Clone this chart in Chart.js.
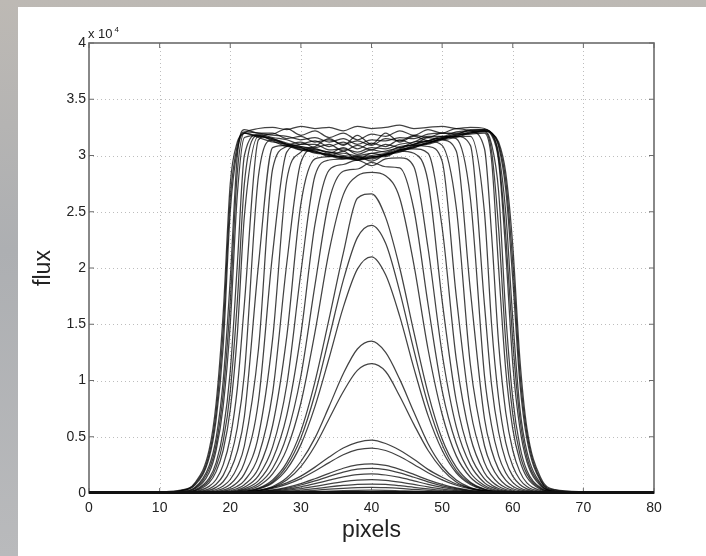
<!DOCTYPE html>
<html>
<head>
<meta charset="utf-8">
<script src="https://cdn.jsdelivr.net/npm/chart.js@4.4.0/dist/chart.umd.min.js"></script>
<style>
  html, body { margin: 0; padding: 0; }
  body {
    width: 706px; height: 556px; overflow: hidden; position: relative;
    background: linear-gradient(180deg, #bdb9b4 0%, #adafb2 45%, #b9babc 100%);
  }
  #panel { position: absolute; left: 18px; top: 7px; width: 688px; height: 549px; background: #fff; }
  canvas { display: block; }
</style>
</head>
<body>
<div id="panel"><canvas id="fluxChart" width="688" height="549"></canvas></div>
<script>
// sample positions shared by every profile
const pixels = [0, 10, 13, 15, 17, 18, 19, 20, 21, 22, 24, 26, 28, 30, 32, 34, 36, 38, 40, 42, 44, 46, 48, 50, 52, 54, 56, 57, 58, 59, 60, 61, 62, 64, 66, 70, 80];

// flux in units of 1e4, one row per exposure
// widest saturated profiles (steep outer edges)
const saturatedWide = [
  [0, 0.01, 0.025, 0.09, 0.38, 0.8, 1.6, 2.75, 3.12, 3.2, 3.24, 3.25, 3.23, 3.26, 3.24, 3.25, 3.22, 3.26, 3.24, 3.25, 3.27, 3.24, 3.25, 3.26, 3.24, 3.25, 3.24, 3.2, 3.12, 2.85, 2.2, 1.2, 0.58, 0.13, 0.03, 0.012, 0],
  [0, 0.008, 0.022, 0.08, 0.34, 0.72, 1.45, 2.62, 3.09, 3.21, 3.2, 3.18, 3.17, 3.14, 3.16, 3.12, 3.15, 3.1, 3.14, 3.13, 3.16, 3.15, 3.19, 3.2, 3.2, 3.22, 3.23, 3.2, 3.1, 2.78, 2.05, 1.08, 0.53, 0.11, 0.025, 0.008, 0],
  [0, 0.005, 0.02, 0.07, 0.31, 0.65, 1.3, 2.5, 3.05, 3.2, 3.16, 3.12, 3.1, 3.05, 3.03, 3.0, 2.97, 2.98, 2.97, 3.01, 3.04, 3.07, 3.12, 3.14, 3.16, 3.2, 3.22, 3.2, 3.08, 2.7, 1.9, 0.98, 0.48, 0.1, 0.02, 0.005, 0],
  [0, 0, 0.015, 0.05, 0.24, 0.49, 1.0, 1.9, 3.0, 3.23, 3.2, 3.2, 3.15, 3.17, 3.12, 3.14, 3.1, 3.13, 3.09, 3.15, 3.13, 3.18, 3.16, 3.2, 3.19, 3.23, 3.23, 3.2, 3.02, 2.5, 1.55, 0.76, 0.37, 0.08, 0.015, 0, 0],
  [0, 0, 0.01, 0.044, 0.21, 0.43, 0.88, 1.7, 2.85, 3.2, 3.17, 3.15, 3.1, 3.08, 3.05, 3.03, 3.0, 2.99, 3.0, 3.02, 3.06, 3.1, 3.13, 3.16, 3.18, 3.2, 3.22, 3.19, 2.98, 2.3, 1.35, 0.67, 0.32, 0.07, 0.013, 0, 0],
  [0, 0, 0.007, 0.038, 0.18, 0.38, 0.77, 1.5, 2.65, 3.16, 3.18, 3.13, 3.08, 3.07, 3.02, 3.01, 2.98, 2.96, 2.99, 2.99, 3.05, 3.07, 3.11, 3.15, 3.17, 3.21, 3.22, 3.18, 2.95, 2.15, 1.15, 0.58, 0.28, 0.06, 0.012, 0, 0],
  [0, 0, 0.005, 0.027, 0.13, 0.27, 0.55, 1.08, 2.03, 3.0, 3.19, 3.16, 3.14, 3.1, 3.1, 3.05, 3.06, 3.03, 3.07, 3.06, 3.1, 3.12, 3.17, 3.17, 3.21, 3.22, 3.22, 3.1, 2.68, 1.6, 0.84, 0.42, 0.2, 0.044, 0.008, 0, 0],
  [0, 0, 0.004, 0.022, 0.11, 0.23, 0.46, 0.9, 1.7, 2.75, 3.18, 3.15, 3.11, 3.08, 3.06, 3.03, 3.02, 3.0, 3.02, 3.04, 3.07, 3.1, 3.13, 3.16, 3.19, 3.2, 3.21, 3.04, 2.35, 1.35, 0.7, 0.35, 0.17, 0.037, 0.007, 0, 0],
  [0, 0, 0.004, 0.019, 0.09, 0.19, 0.38, 0.74, 1.41, 2.46, 3.17, 3.14, 3.09, 3.05, 3.04, 2.99, 2.99, 2.97, 2.98, 3.01, 3.03, 3.08, 3.1, 3.14, 3.18, 3.19, 3.2, 2.96, 2.0, 1.1, 0.57, 0.29, 0.14, 0.03, 0.006, 0, 0],
  [0, 0, 0.002, 0.012, 0.059, 0.12, 0.25, 0.49, 0.93, 1.68, 3.14, 3.19, 3.24, 3.18, 3.22, 3.16, 3.2, 3.14, 3.19, 3.17, 3.22, 3.18, 3.23, 3.2, 3.24, 3.22, 3.06, 2.3, 1.33, 0.72, 0.38, 0.19, 0.09, 0.02, 0, 0, 0]
];

// saturated profiles with narrower flat tops
const saturatedInner = [
  [0, 0, 0, 0.008, 0.037, 0.078, 0.157, 0.31, 0.58, 1.06, 2.82, 3.14, 3.1, 3.07, 3.03, 3.01, 2.98, 2.98, 2.99, 3.0, 3.05, 3.08, 3.11, 3.15, 3.17, 3.17, 2.49, 1.5, 0.84, 0.45, 0.24, 0.12, 0.058, 0.012, 0, 0, 0],
  [0, 0, 0, 0.005, 0.024, 0.05, 0.1, 0.2, 0.37, 0.68, 2.03, 3.07, 3.09, 3.06, 3.04, 3.0, 2.99, 2.96, 2.98, 3.01, 3.04, 3.09, 3.11, 3.15, 3.17, 3.09, 1.67, 0.96, 0.54, 0.29, 0.15, 0.076, 0.037, 0.008, 0, 0, 0],
  [0, 0, 0, 0.003, 0.015, 0.031, 0.062, 0.12, 0.23, 0.42, 1.28, 2.88, 3.08, 3.12, 3.07, 3.1, 3.04, 3.09, 3.05, 3.1, 3.07, 3.12, 3.13, 3.17, 3.15, 2.62, 1.04, 0.6, 0.33, 0.18, 0.094, 0.047, 0.023, 0.005, 0, 0, 0],
  [0, 0, 0, 0, 0.01, 0.02, 0.04, 0.078, 0.148, 0.27, 0.82, 2.13, 3.03, 3.1, 3.13, 3.08, 3.12, 3.06, 3.11, 3.08, 3.14, 3.1, 3.16, 3.14, 3.04, 1.8, 0.66, 0.38, 0.21, 0.115, 0.06, 0.03, 0.015, 0, 0, 0, 0],
  [0, 0, 0, 0, 0.006, 0.012, 0.025, 0.049, 0.093, 0.17, 0.51, 1.37, 2.78, 3.03, 3.08, 3.15, 3.09, 3.18, 3.1, 3.2, 3.12, 3.17, 3.13, 3.09, 2.54, 1.14, 0.42, 0.24, 0.134, 0.072, 0.038, 0.019, 0.009, 0, 0, 0, 0],
  [0, 0, 0, 0, 0.004, 0.008, 0.016, 0.032, 0.06, 0.11, 0.33, 0.89, 2.04, 2.94, 3.06, 3.02, 3.07, 3.01, 3.05, 3.03, 3.08, 3.09, 3.08, 2.95, 1.75, 0.74, 0.27, 0.156, 0.087, 0.047, 0.024, 0.012, 0.006, 0, 0, 0, 0],
  [0, 0, 0, 0, 0.003, 0.005, 0.011, 0.021, 0.04, 0.074, 0.22, 0.6, 1.39, 2.57, 2.97, 2.99, 3.04, 2.96, 3.02, 3.0, 3.05, 3.06, 3.02, 2.36, 1.19, 0.5, 0.18, 0.105, 0.058, 0.031, 0.016, 0.008, 0.004, 0, 0, 0, 0],
  [0, 0, 0, 0, 0.002, 0.004, 0.0075, 0.015, 0.028, 0.051, 0.155, 0.41, 0.96, 1.96, 2.82, 2.96, 2.97, 2.99, 2.95, 3.01, 3.04, 3.02, 2.77, 1.71, 0.82, 0.34, 0.125, 0.072, 0.04, 0.022, 0.011, 0.006, 0, 0, 0, 0, 0],
  [0, 0, 0, 0, 0, 0.003, 0.005, 0.011, 0.02, 0.037, 0.11, 0.3, 0.69, 1.41, 2.39, 2.87, 2.92, 2.96, 2.91, 2.97, 2.98, 2.9, 2.18, 1.24, 0.59, 0.25, 0.09, 0.052, 0.029, 0.016, 0.008, 0.004, 0, 0, 0, 0, 0],
  [0, 0, 0, 0, 0, 0, 0.004, 0.008, 0.015, 0.027, 0.082, 0.22, 0.51, 1.04, 1.85, 2.6, 2.86, 2.88, 2.94, 2.9, 2.89, 2.52, 1.68, 0.91, 0.44, 0.18, 0.067, 0.038, 0.021, 0.012, 0.006, 0, 0, 0, 0, 0, 0],
  [0, 0, 0, 0, 0, 0, 0, 0.006, 0.011, 0.021, 0.063, 0.17, 0.39, 0.8, 1.43, 2.15, 2.65, 2.82, 2.85, 2.82, 2.62, 2.03, 1.28, 0.7, 0.33, 0.14, 0.051, 0.029, 0.016, 0.009, 0.005, 0, 0, 0, 0, 0, 0]
];

// unsaturated peaks
const peaked = [
  [0, 0, 0, 0, 0, 0, 0, 0.004, 0.008, 0.014, 0.043, 0.116, 0.27, 0.55, 0.99, 1.55, 2.13, 2.62, 2.66, 2.45, 2.0, 1.43, 0.89, 0.48, 0.23, 0.096, 0.035, 0.02, 0.011, 0.006, 0.003, 0, 0, 0, 0, 0, 0],
  [0, 0, 0, 0, 0, 0, 0, 0.004, 0.007, 0.013, 0.039, 0.1, 0.24, 0.49, 0.88, 1.38, 1.89, 2.27, 2.38, 2.22, 1.79, 1.27, 0.79, 0.43, 0.2, 0.086, 0.031, 0.018, 0.01, 0.005, 0, 0, 0, 0, 0, 0, 0],
  [0, 0, 0, 0, 0, 0, 0, 0.003, 0.006, 0.011, 0.034, 0.09, 0.21, 0.43, 0.77, 1.2, 1.65, 1.99, 2.1, 1.94, 1.57, 1.11, 0.69, 0.38, 0.18, 0.075, 0.027, 0.016, 0.009, 0.005, 0, 0, 0, 0, 0, 0, 0],
  [0, 0, 0, 0, 0, 0, 0, 0, 0.004, 0.007, 0.022, 0.058, 0.135, 0.28, 0.49, 0.77, 1.06, 1.28, 1.35, 1.25, 1.01, 0.72, 0.44, 0.24, 0.115, 0.048, 0.018, 0.01, 0.006, 0, 0, 0, 0, 0, 0, 0, 0],
  [0, 0, 0, 0, 0, 0, 0, 0, 0.003, 0.006, 0.019, 0.049, 0.115, 0.235, 0.42, 0.66, 0.9, 1.09, 1.15, 1.08, 0.86, 0.61, 0.38, 0.21, 0.098, 0.041, 0.015, 0.009, 0.005, 0, 0, 0, 0, 0, 0, 0, 0]
];

// faint exposures near the baseline
const faint = [
  [0, 0, 0, 0, 0, 0, 0, 0.005, 0.008, 0.011, 0.024, 0.05, 0.09, 0.15, 0.23, 0.32, 0.4, 0.45, 0.47, 0.44, 0.38, 0.3, 0.21, 0.14, 0.08, 0.043, 0.021, 0.014, 0.009, 0.006, 0.004, 0, 0, 0, 0, 0, 0],
  [0, 0, 0, 0, 0, 0, 0, 0.004, 0.006, 0.009, 0.021, 0.042, 0.077, 0.128, 0.195, 0.27, 0.34, 0.385, 0.4, 0.378, 0.325, 0.254, 0.18, 0.117, 0.069, 0.037, 0.018, 0.012, 0.008, 0.005, 0.003, 0, 0, 0, 0, 0, 0],
  [0, 0, 0, 0, 0, 0, 0, 0, 0.004, 0.006, 0.014, 0.027, 0.05, 0.083, 0.127, 0.175, 0.22, 0.25, 0.26, 0.245, 0.21, 0.165, 0.117, 0.076, 0.045, 0.024, 0.012, 0.008, 0.005, 0, 0, 0, 0, 0, 0, 0, 0],
  [0, 0, 0, 0, 0, 0, 0, 0, 0, 0.005, 0.011, 0.023, 0.042, 0.071, 0.107, 0.148, 0.185, 0.212, 0.22, 0.208, 0.179, 0.14, 0.099, 0.064, 0.038, 0.02, 0.01, 0.007, 0.004, 0, 0, 0, 0, 0, 0, 0, 0],
  [0, 0, 0, 0, 0, 0, 0, 0, 0, 0, 0.009, 0.018, 0.033, 0.055, 0.083, 0.114, 0.143, 0.164, 0.17, 0.16, 0.138, 0.108, 0.077, 0.05, 0.029, 0.016, 0.008, 0.005, 0, 0, 0, 0, 0, 0, 0, 0, 0],
  [0, 0, 0, 0, 0, 0, 0, 0, 0, 0, 0.006, 0.013, 0.023, 0.039, 0.058, 0.081, 0.101, 0.115, 0.12, 0.113, 0.097, 0.076, 0.054, 0.035, 0.021, 0.011, 0.005, 0, 0, 0, 0, 0, 0, 0, 0, 0, 0],
  [0, 0, 0, 0, 0, 0, 0, 0, 0, 0, 0, 0.008, 0.015, 0.026, 0.039, 0.054, 0.067, 0.077, 0.08, 0.076, 0.065, 0.051, 0.036, 0.023, 0.014, 0.007, 0, 0, 0, 0, 0, 0, 0, 0, 0, 0, 0],
  [0, 0, 0, 0, 0, 0, 0, 0, 0, 0, 0, 0, 0.01, 0.016, 0.024, 0.034, 0.042, 0.048, 0.05, 0.047, 0.041, 0.032, 0.023, 0.015, 0.009, 0, 0, 0, 0, 0, 0, 0, 0, 0, 0, 0, 0],
  [0, 0, 0, 0, 0, 0, 0, 0, 0, 0, 0, 0, 0, 0.008, 0.012, 0.017, 0.021, 0.024, 0.025, 0.024, 0.02, 0.016, 0.011, 0.007, 0, 0, 0, 0, 0, 0, 0, 0, 0, 0, 0, 0, 0]
];

const xTicks = [0, 10, 20, 30, 40, 50, 60, 70, 80];
const yTicks = [0, 0.5, 1, 1.5, 2, 2.5, 3, 3.5, 4];
const fluxExponent = 4;

const FONT = '"Liberation Sans", Arial, Helvetica, sans-serif';

// dotted grid under the curves, box + inward ticks + exponent on top
const axesFrame = {
  id: 'axesFrame',
  beforeDatasetsDraw(chart) {
    const { ctx, chartArea: a, scales: { x, y } } = chart;
    ctx.save();
    ctx.strokeStyle = '#bdbdbd';
    ctx.lineWidth = 1;
    ctx.setLineDash([1, 3]);
    ctx.beginPath();
    xTicks.slice(1, -1).forEach(v => {
      const px = Math.round(x.getPixelForValue(v)) + 0.5;
      ctx.moveTo(px, a.top); ctx.lineTo(px, a.bottom);
    });
    yTicks.slice(1, -1).forEach(v => {
      const py = Math.round(y.getPixelForValue(v)) + 0.5;
      ctx.moveTo(a.left, py); ctx.lineTo(a.right, py);
    });
    ctx.stroke();
    ctx.restore();
  },
  afterDatasetsDraw(chart) {
    const { ctx, chartArea: a, scales: { x, y } } = chart;
    ctx.save();
    ctx.strokeStyle = '#6b6b6b';
    ctx.lineWidth = 1.6;
    ctx.strokeRect(a.left, a.top, a.right - a.left, a.bottom - a.top);

    ctx.lineWidth = 1;
    ctx.beginPath();
    xTicks.forEach(v => {
      const px = x.getPixelForValue(v);
      ctx.moveTo(px, a.bottom); ctx.lineTo(px, a.bottom - 5);
      ctx.moveTo(px, a.top); ctx.lineTo(px, a.top + 5);
    });
    yTicks.forEach(v => {
      const py = y.getPixelForValue(v);
      ctx.moveTo(a.left, py); ctx.lineTo(a.left + 5, py);
      ctx.moveTo(a.right, py); ctx.lineTo(a.right - 5, py);
    });
    ctx.stroke();

    // heavy baseline where all profiles sit at zero
    ctx.strokeStyle = '#111';
    ctx.lineWidth = 3;
    ctx.beginPath();
    ctx.moveTo(a.left, a.bottom - 0.5);
    ctx.lineTo(a.right, a.bottom - 0.5);
    ctx.stroke();

    ctx.fillStyle = '#222';
    ctx.textBaseline = 'alphabetic';
    ctx.font = '13px ' + FONT;
    ctx.fillText('x 10', a.left - 1, a.top - 5);
    const w = ctx.measureText('x 10').width;
    ctx.font = '8px ' + FONT;
    ctx.fillText(String(fluxExponent), a.left + w + 1, a.top - 11);
    ctx.restore();
  }
};

const toPoints = row => row.map((f, i) => ({ x: pixels[i], y: f }));

const datasets = [...faint, ...peaked, ...saturatedInner, ...saturatedWide].map(row => ({
  data: toPoints(row),
  borderColor: 'rgba(0,0,0,0.74)',
  borderWidth: 1.25,
  pointRadius: 0,
  cubicInterpolationMode: 'monotone',
  fill: false
}));

new Chart(document.getElementById('fluxChart'), {
  type: 'line',
  data: { datasets },
  options: {
    responsive: false,
    animation: false,
    events: [],
    layout: { padding: { left: 0, top: 36, right: 52, bottom: 0 } },
    plugins: { legend: { display: false }, tooltip: { enabled: false } },
    scales: {
      x: {
        type: 'linear',
        min: xTicks[0],
        max: xTicks[xTicks.length - 1],
        afterBuildTicks: s => { s.ticks = xTicks.map(v => ({ value: v })); },
        afterFit: s => { s.height = 63; },
        grid: { display: false, drawTicks: false },
        border: { display: false },
        ticks: { padding: 7, color: '#222', maxRotation: 0, autoSkip: false, font: { family: FONT, size: 14 } },
        title: { display: true, text: 'pixels', color: '#222', font: { family: FONT, size: 23 }, padding: { top: 0, bottom: 12 } }
      },
      y: {
        type: 'linear',
        min: yTicks[0],
        max: yTicks[yTicks.length - 1],
        afterBuildTicks: s => { s.ticks = yTicks.map(v => ({ value: v })); },
        afterFit: s => { s.width = 71; },
        grid: { display: false, drawTicks: false },
        border: { display: false },
        ticks: { padding: 3, color: '#222', autoSkip: false, font: { family: FONT, size: 14 }, callback: v => String(v) },
        title: { display: true, text: 'flux', color: '#222', font: { family: FONT, size: 23 }, padding: { top: 12, bottom: 0 } }
      }
    }
  },
  plugins: [axesFrame]
});
</script>
</body>
</html>
